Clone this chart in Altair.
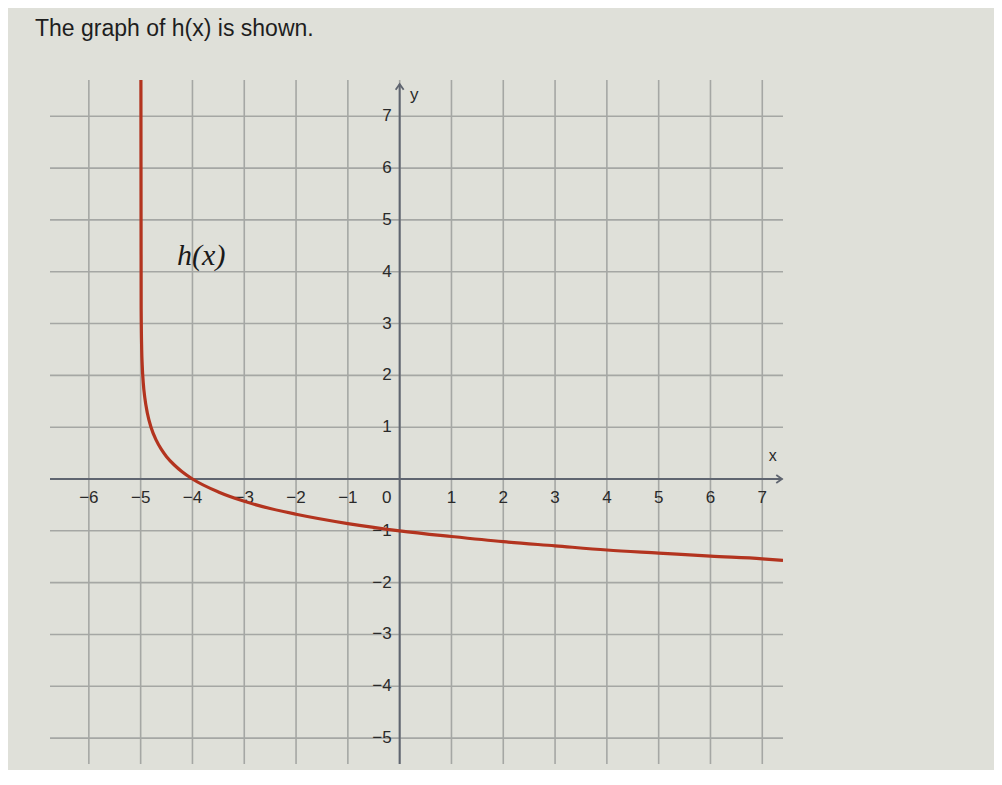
import altair as alt
import pandas as pd

# ---- data ----
curve_x = [-4.995, -4.99, -4.98, -4.97, -4.95, -4.92, -4.87, -4.8, -4.7, -4.6, -4.5,
           -4.35, -4.2, -4.0, -3.5, -3.0, -2.5, -2.0, -1.0, 0.0, 1.0, 2.0, 3.0, 4.0,
           5.0, 6.0, 7.0, 7.4]
curve_y = [7.7, 3.3, 2.5, 2.2, 1.86, 1.57, 1.27, 1.0, 0.75, 0.57, 0.43,
           0.27, 0.14, 0.0, -0.25, -0.43, -0.57, -0.68, -0.86, -1.0, -1.11, -1.21, -1.29,
           -1.37, -1.43, -1.49, -1.54, -1.57]

grid_x = [-6, -5, -4, -3, -2, -1, 0, 1, 2, 3, 4, 5, 6, 7]
grid_y = [-5, -4, -3, -2, -1, 0, 1, 2, 3, 4, 5, 6, 7]

x_tick_vals = [-6, -5, -4, -3, -2, -1, 1, 2, 3, 4, 5, 6, 7]
x_tick_text = ["−6", "−5", "−4", "−3", "−2", "−1", "1", "2", "3", "4", "5", "6", "7"]
y_tick_vals = [7, 6, 5, 4, 3, 2, 1, -1, -2, -3, -4, -5]
y_tick_text = ["7", "6", "5", "4", "3", "2", "1", "−1", "−2", "−3", "−4", "−5"]

X_DOMAIN = [-6.75, 7.4]
Y_DOMAIN = [-5.5, 7.7]

BG = "#dfe0d9"
GRID = "#a5a7a4"
AXIS = "#5f6570"
CURVE = "#b3341f"
TEXT = "#2a2a2a"

xs = alt.Scale(domain=X_DOMAIN, nice=False, zero=False)
ys = alt.Scale(domain=Y_DOMAIN, nice=False, zero=False)

curve_df = pd.DataFrame({"x": curve_x, "y": curve_y})
gx_df = pd.DataFrame({"x": grid_x})
gy_df = pd.DataFrame({"y": grid_y})
xt_df = pd.DataFrame({"x": x_tick_vals, "y": [0] * len(x_tick_vals), "t": x_tick_text})
yt_df = pd.DataFrame({"x": [0] * len(y_tick_vals), "y": y_tick_vals, "t": y_tick_text})
zero_df = pd.DataFrame({"x": [0], "y": [0], "t": ["0"]})
xaxis_df = pd.DataFrame({"x": [X_DOMAIN[0]], "x2": [7.38], "y": [0]})
yaxis_df = pd.DataFrame({"x": [0], "y": [Y_DOMAIN[0]], "y2": [7.62]})
xarrow_df = pd.DataFrame({"x": [7.38], "y": [0]})
yarrow_df = pd.DataFrame({"x": [0], "y": [7.62]})
xname_df = pd.DataFrame({"x": [7.2], "y": [0.45], "t": ["x"]})
yname_df = pd.DataFrame({"x": [0.28], "y": [7.42], "t": ["y"]})
hname_df = pd.DataFrame({"x": [-3.83], "y": [4.3], "t": ["h(x)"]})

X = lambda f="x": alt.X(f"{f}:Q", scale=xs, axis=None)
Y = lambda f="y": alt.Y(f"{f}:Q", scale=ys, axis=None)

vgrid = alt.Chart(gx_df).mark_rule(color=GRID, strokeWidth=1.6).encode(x=X())
hgrid = alt.Chart(gy_df).mark_rule(color=GRID, strokeWidth=1.6).encode(y=Y())

xaxis = alt.Chart(xaxis_df).mark_rule(color=AXIS, strokeWidth=2).encode(
    x=X(), x2="x2:Q", y=Y())
yaxis = alt.Chart(yaxis_df).mark_rule(color=AXIS, strokeWidth=2).encode(
    x=X(), y=Y(), y2="y2:Q")

xarrow = alt.Chart(xarrow_df).mark_point(
    shape="M-1,-0.7L0,0L-1,0.7", filled=False, stroke=AXIS, strokeWidth=1.8,
    size=130, opacity=1).encode(x=X(), y=Y())
yarrow = alt.Chart(yarrow_df).mark_point(
    shape="M-0.7,1L0,0L0.7,1", filled=False, stroke=AXIS, strokeWidth=1.8,
    size=130, opacity=1).encode(x=X(), y=Y())

curve = alt.Chart(curve_df).mark_line(
    color=CURVE, strokeWidth=3.2, interpolate="monotone", clip=True).encode(
    x=X(), y=Y(), order="x:Q")

FS = 17
xlabels = alt.Chart(xt_df).mark_text(
    align="center", baseline="middle", dy=19, fontSize=FS, font="Liberation Sans",
    color=TEXT).encode(x=X(), y=Y(), text="t:N")
ylabels = alt.Chart(yt_df).mark_text(
    align="right", baseline="middle", dx=-8, fontSize=FS, font="Liberation Sans",
    color=TEXT).encode(x=X(), y=Y(), text="t:N")
zlabel = alt.Chart(zero_df).mark_text(
    align="center", baseline="middle", dx=-13, dy=19, fontSize=FS, font="Liberation Sans",
    color=TEXT).encode(x=X(), y=Y(), text="t:N")
xname = alt.Chart(xname_df).mark_text(
    align="center", baseline="middle", fontSize=16, font="Liberation Sans",
    color=TEXT).encode(x=X(), y=Y(), text="t:N")
yname = alt.Chart(yname_df).mark_text(
    align="center", baseline="middle", fontSize=17, font="Liberation Sans",
    color=TEXT).encode(x=X(), y=Y(), text="t:N")
hname = alt.Chart(hname_df).mark_text(
    align="center", baseline="middle", fontSize=30, font="Liberation Serif",
    fontStyle="italic", color="#1a1a1a").encode(x=X(), y=Y(), text="t:N")

chart = alt.layer(
    vgrid, hgrid, xaxis, yaxis, xarrow, yarrow,
    xlabels, ylabels, zlabel, xname, yname, hname, curve
).properties(
    width=733,
    height=684,
    background=BG,
    padding={"left": 42, "top": 72, "right": 211, "bottom": 6},
    autosize=alt.AutoSizeParams(type="none"),
    title=alt.TitleParams(
        "The graph of h(x) is shown.",
        anchor="start", frame="group", dx=-15, offset=20,
        baseline="alphabetic", fontSize=23, font="Liberation Sans",
        fontWeight="normal", color="#1e1e1e"),
).configure_view(stroke=None)

chart.save("out.html", embed_options={"renderer": "svg", "actions": False})
